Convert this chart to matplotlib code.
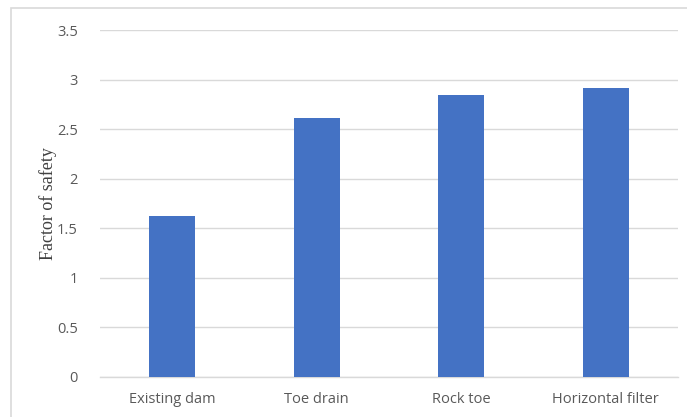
import matplotlib
matplotlib.use("Agg")
import matplotlib.pyplot as plt
from matplotlib.patches import Rectangle

# 数据
categories = ["Existing dam", "Toe drain", "Rock toe", "Horizontal filter"]
safety_factor = [1.62, 2.61, 2.84, 2.92]
y_ticks = [0, 0.5, 1, 1.5, 2, 2.5, 3, 3.5]
y_tick_labels = ["0", "0.5", "1", "1.5", "2", "2.5", "3", "3.5"]

fig = plt.figure(figsize=(6.87, 4.17), dpi=100)
ax = fig.add_axes([100 / 687, 1 - 377 / 417, 578 / 687, 347 / 417])

# 外框（Excel 图表边框）
fig.patches.append(Rectangle((11 / 687, -0.05), 1.0, 1 - 8 / 417 + 0.05,
                             transform=fig.transFigure, fill=False,
                             edgecolor="#D9D9D9", linewidth=1.2))

x = range(len(categories))
ax.bar(x, safety_factor, width=0.32, color="#4472C4", zorder=3)

ax.set_xlim(-0.5, len(categories) - 0.5)
ax.set_ylim(0, 3.5)
ax.set_yticks(y_ticks)
ax.set_yticklabels(y_tick_labels)
ax.set_xticks(list(x))
ax.set_xticklabels(categories)

for lab in ax.get_xticklabels() + ax.get_yticklabels():
    lab.set_fontfamily("Open Sans")
    lab.set_fontsize(10.5)
    lab.set_color("#595959")

ax.tick_params(axis="both", length=0)
ax.tick_params(axis="y", pad=16)
ax.tick_params(axis="x", pad=11)

ax.grid(axis="y", color="#D9D9D9", linewidth=1, zorder=0)
for side in ["top", "right", "left"]:
    ax.spines[side].set_visible(False)
ax.spines["bottom"].set_color("#D9D9D9")
ax.spines["bottom"].set_linewidth(1)

ax.set_ylabel("Factor of safety", fontfamily="Liberation Serif",
              fontsize=13, color="#404040", labelpad=0)

fig.savefig("out.png", dpi=100)
